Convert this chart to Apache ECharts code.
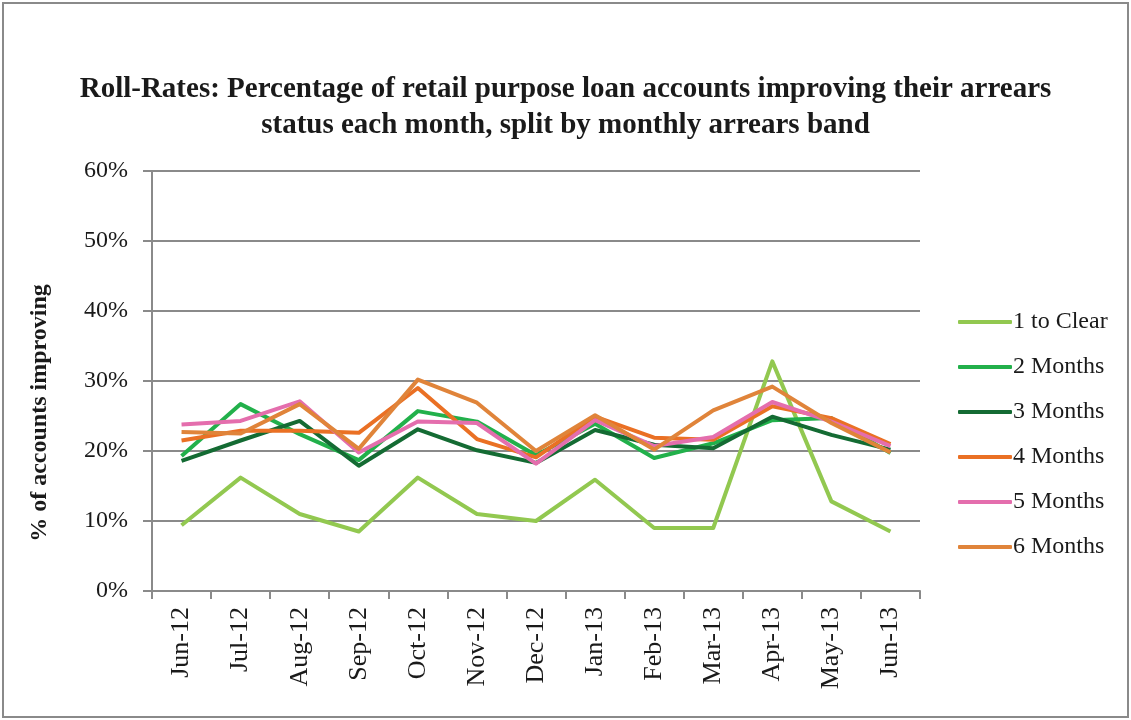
<!DOCTYPE html>
<html>
<head>
<meta charset="utf-8">
<script src="https://cdn.jsdelivr.net/npm/echarts@6/dist/echarts.min.js"></script>
<style>
html,body{margin:0;padding:0;background:#fff;}
#chart{width:1131px;height:720px;}
</style>
</head>
<body>
<div id="chart"></div>
<script>
const categories = ['Jun-12','Jul-12','Aug-12','Sep-12','Oct-12','Nov-12','Dec-12','Jan-13','Feb-13','Mar-13','Apr-13','May-13','Jun-13'];
const oneToClear = [9.4, 16.2, 11.0, 8.5, 16.2, 11.0, 10.0, 15.9, 9.0, 9.0, 32.8, 12.8, 8.5];
const twoMonths  = [19.3, 26.7, 22.4, 18.7, 25.7, 24.2, 19.4, 23.9, 19.0, 21.1, 24.4, 24.7, 19.7];
const threeMonths= [18.6, 21.5, 24.3, 17.9, 23.1, 20.1, 18.3, 23.0, 20.9, 20.4, 24.9, 22.3, 20.2];
const fourMonths = [21.5, 22.9, 22.9, 22.6, 29.0, 21.7, 19.1, 24.9, 21.9, 21.6, 26.4, 24.7, 21.0];
const fiveMonths = [23.8, 24.3, 27.1, 19.8, 24.2, 24.0, 18.2, 24.4, 20.7, 22.0, 27.0, 24.2, 20.7];
const sixMonths  = [22.7, 22.5, 26.7, 20.3, 30.2, 26.9, 20.0, 25.1, 20.2, 25.8, 29.2, 24.0, 19.8];
const seriesNames = ['1 to Clear','2 Months','3 Months','4 Months','5 Months','6 Months'];
const yTicks = [0, 10, 20, 30, 40, 50, 60];

const colors = ['#92C850','#22B04B','#146B33','#EA7024','#E46EAD','#E0843A'];
const allData = [oneToClear, twoMonths, threeMonths, fourMonths, fiveMonths, sixMonths];
const serif = '"Liberation Serif", "Times New Roman", serif';

const chart = echarts.init(document.getElementById('chart'), null, {renderer:'canvas'});
chart.setOption({
  animation: false,
  backgroundColor: '#fff',
  color: colors,
  title: {
    text: 'Roll-Rates: Percentage of retail purpose loan accounts improving their arrears\nstatus each month, split by monthly arrears band',
    left: 'center',
    top: 67,
    textStyle: {fontFamily: serif, fontWeight: 'bold', fontSize: 29, lineHeight: 36, color: '#1a1a1a', align: 'center'}
  },
  graphic: [
    {type:'rect', shape:{x:3, y:3, width:1125, height:714}, style:{fill:'none', stroke:'#8a8a8a', lineWidth:2}, silent:true},
    {type:'text', x:40, y:413, rotation: Math.PI/2,
     style:{text:'% of accounts improving', font:'bold 24px "Liberation Serif", serif', fill:'#1a1a1a', align:'center', verticalAlign:'middle'}}
  ],
  legend: {
    orient: 'vertical',
    left: 953,
    top: 305,
    itemWidth: 54,
    itemHeight: 4,
    itemGap: 21,
    icon: 'roundRect',
    textStyle: {fontFamily: serif, fontSize: 24, color: '#1a1a1a', lineHeight: 22, padding:[0,0,0,-4]},
    data: seriesNames
  },
  grid: {left: 152, right: 211, top: 171, bottom: 129, containLabel: false},
  xAxis: {
    type: 'category',
    data: categories,
    boundaryGap: true,
    axisLine: {lineStyle: {color: '#8a8a8a', width: 2}},
    axisTick: {show: true, length: 8, alignWithLabel: false, lineStyle: {color: '#8a8a8a', width: 2}},
    axisLabel: {rotate: 90, margin: 16, fontFamily: serif, fontSize: 26, color: '#1a1a1a'}
  },
  yAxis: {
    type: 'value',
    min: 0, max: 60, interval: 10,
    axisLine: {show: true, lineStyle: {color: '#8a8a8a', width: 2}},
    axisTick: {show: true, length: 9, lineStyle: {color: '#8a8a8a', width: 2}},
    splitLine: {show: true, lineStyle: {color: '#8a8a8a', width: 2}},
    axisLabel: {margin: 24, fontFamily: serif, fontSize: 24, color: '#1a1a1a',
      formatter: v => yTicks.indexOf(v) >= 0 ? v + '%' : ''}
  },
  series: seriesNames.map((n, i) => ({
    name: n,
    type: 'line',
    data: allData[i],
    symbol: 'none',
    lineStyle: {width: 4, color: colors[i], join: 'round'},
    itemStyle: {color: colors[i]},
    z: 2 + i
  }))
});
</script>
</body>
</html>
